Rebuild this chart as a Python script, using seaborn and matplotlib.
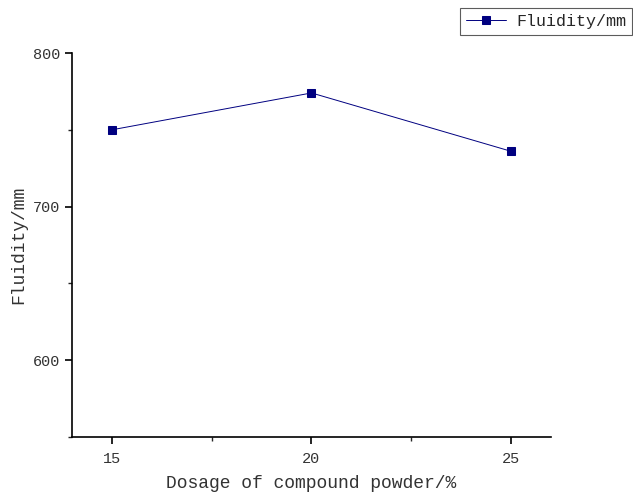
import matplotlib
matplotlib.use("Agg")
import matplotlib.pyplot as plt
import seaborn as sns
import pandas as pd
from matplotlib.ticker import MultipleLocator

dosage = [15, 20, 25]
fluidity = [750, 774, 736]
series_name = "Fluidity/mm"

sns.set_style("ticks")
plt.rcParams['font.family'] = ['Liberation Mono', 'DejaVu Sans Mono']

df = pd.DataFrame({"Dosage": dosage, series_name: fluidity})

fig = plt.figure(figsize=(6.33, 4.95), dpi=100)
ax = fig.add_axes([0.1137, 0.1172, 0.8705 - 0.1137, 0.8929 - 0.1172])

sns.lineplot(data=df, x="Dosage", y=series_name, ax=ax, color="#000080",
             marker="s", markersize=6, markeredgecolor="#000080",
             linewidth=0.7, label=series_name, legend=False)

ax.set_xlim(14, 26)
ax.set_ylim(550, 800)
ax.xaxis.set_major_locator(MultipleLocator(5))
ax.xaxis.set_minor_locator(MultipleLocator(2.5))
ax.yaxis.set_major_locator(MultipleLocator(100))
ax.yaxis.set_minor_locator(MultipleLocator(50))
ax.tick_params(which="major", direction="out", length=5, width=1.2, labelsize=11, colors="black")
ax.tick_params(axis="x", which="major", pad=6)
ax.tick_params(which="minor", direction="out", length=3, width=1.0)
for lab in ax.get_xticklabels() + ax.get_yticklabels():
    lab.set_color("#333333")
for s in ["left", "bottom"]:
    ax.spines[s].set_linewidth(1.2)
    ax.spines[s].set_color("black")
sns.despine(ax=ax)

ax.set_xlabel("Dosage of compound powder/%", fontsize=13, color="#333333", labelpad=6)
ax.set_ylabel("Fluidity/mm", fontsize=13, color="#333333", labelpad=4)

leg = fig.legend(handles=ax.get_lines()[:1], labels=[series_name], loc="upper right",
                 bbox_to_anchor=(632 / 633, 1 - 8 / 495), borderaxespad=0,
                 fontsize=12, frameon=True,
                 fancybox=False, edgecolor="#333333", handlelength=2.4,
                 borderpad=0.35, handletextpad=0.6)
leg.get_frame().set_linewidth(0.8)

fig.savefig("out.png", dpi=100, facecolor="white")
